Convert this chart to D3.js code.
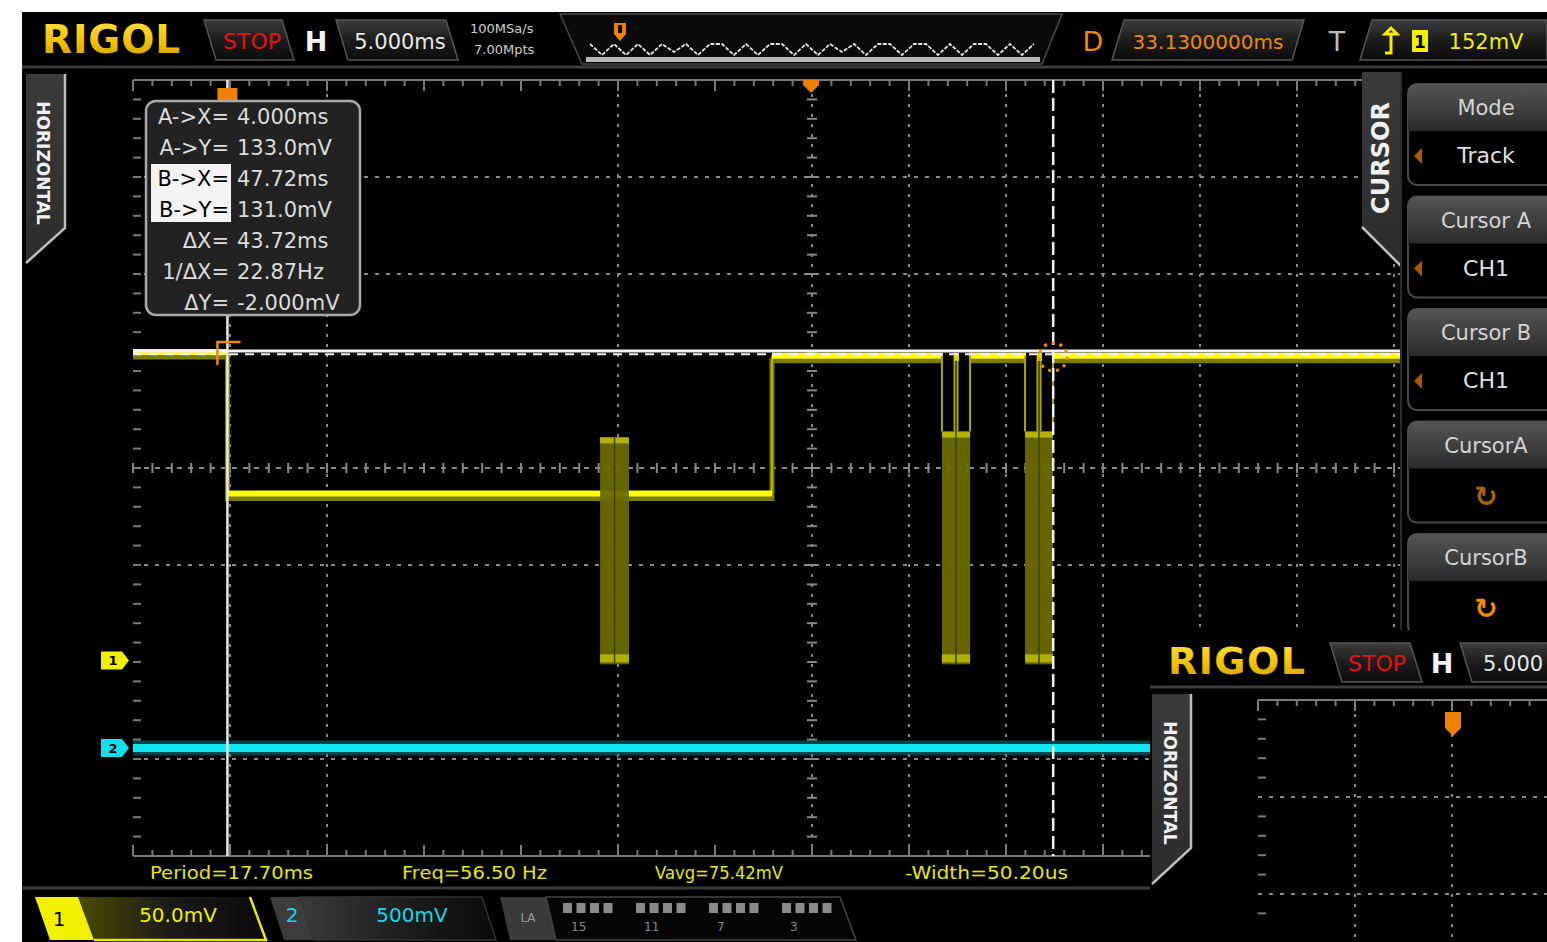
<!DOCTYPE html>
<html>
<head>
<meta charset="utf-8">
<script src="https://cdn.jsdelivr.net/npm/d3@7"></script>
<style>
  html, body { margin: 0; padding: 0; background: #fff; overflow: hidden; }
  text { font-family: "DejaVu Sans", sans-serif; }
</style>
</head>
<body>
<svg id="scope" width="1547" height="942"></svg>
<script>
// ---------------- data ----------------
const timeWindowMs = [-1.0, 70.9];          // time spanned by the 14 horizontal divisions
const ch1ScaleMv = 50;                       // CH1 vertical scale, mV/div
const ch1CenterMv = 73.2;                    // CH1 value on the centre graticule line
const ch2ScaleMv = 500;                      // CH2 vertical scale, mV/div
const ch2CenterMv = 1443;                    // CH2 value on the centre graticule line

// CH1 levels as step changes (time ms, level mV)
const ch1StepTimes = [-1.0, 4.0, 32.83, 70.9];
const ch1StepLevels = [133, 60, 131, 131];

// CH1 data bursts: start/end ms, swing low/high mV, level the burst sits on
const burstStart = [23.73, 41.83, 46.23];
const burstEnd   = [25.26, 43.32, 47.71];
const burstLow   = [-28, -28, -28];
const burstHigh  = [89, 92, 92];
const burstBase  = [60, 131, 131];

// CH2 stays at 0 V over the whole record
const ch2Times = [-1.0, 70.9];
const ch2Levels = [0, 0];

// cursors (track mode, both on CH1)
const cursorAx = 4.000, cursorAy = 133.0;
const cursorBx = 47.72, cursorBy = 131.0;

const triggerPosMs = 34.9;
const ch1OffsetMv = -26;
const ch2OffsetMv = 0;

const measureLabels = ["Period=17.70ms", "Freq=56.50 Hz", "Vavg=75.42mV", "-Width=50.20us"];
const menuTitles = ["Mode", "Cursor A", "Cursor B", "CursorA", "CursorB"];
const menuValues = ["Track", "CH1", "CH1", "\u21BB", "\u21BB"];
const laGroupLabels = ["15", "11", "7", "3"];
const overviewPattern = "^v^v^v^_^v^^v^v^^v^v^_^v^^v^^v^v^^v^v^";

// graticule lines that show on this screen (division index from centre)
const gridCols = [-6, -5, -2, 0, 1, 2, 3, 4, 5, 6];
const gridRows = [3, 2, 0, -1, -3];

// ---------------- drawing ----------------
const W = 1547, H = 942;
const svg = d3.select("#scope");
const defs = svg.append("defs");

function vGrad(id, stops) {
  const g = defs.append("linearGradient").attr("id", id)
    .attr("x1", 0).attr("y1", 0).attr("x2", 0).attr("y2", 1);
  stops.forEach(([o, c]) => g.append("stop").attr("offset", o).attr("stop-color", c));
}
function hGrad(id, stops) {
  const g = defs.append("linearGradient").attr("id", id)
    .attr("x1", 0).attr("y1", 0).attr("x2", 1).attr("y2", 0);
  stops.forEach(([o, c]) => g.append("stop").attr("offset", o).attr("stop-color", c));
}
vGrad("boxGrad", [[0, "#3c3c3c"], [0.5, "#1c1c1c"], [1, "#0c0c0c"]]);
vGrad("btnGrad", [[0, "#555"], [1, "#2a2a2a"]]);
vGrad("tabGrad", [[0, "#3a3a3a"], [1, "#2c2c2c"]]);
vGrad("logoGrad", [[0, "#ffe24a"], [0.55, "#f2c200"], [1, "#c99a00"]]);
hGrad("ch1Grad", [[0, "#4a4a00"], [0.5, "#1a1a1a"], [1, "#0a0a0a"]]);
hGrad("chGrad", [[0, "#3a3a3a"], [0.6, "#1a1a1a"], [1, "#0a0a0a"]]);

// page and screen
svg.append("rect").attr("width", W).attr("height", H).attr("fill", "#fff");
svg.append("rect").attr("x", 22).attr("y", 12).attr("width", W - 22).attr("height", H - 12).attr("fill", "#000");

const poly = (g, pts, fill, stroke, sw) =>
  g.append("polygon").attr("points", pts.map(p => p.join(",")).join(" "))
    .attr("fill", fill).attr("stroke", stroke || "none").attr("stroke-width", sw || 1.5);

// ---------- graticule ----------
const gx = d3.scaleLinear().domain([-7, 7]).range([133, 1491]);
const gy = d3.scaleLinear().domain([-4, 4]).range([856, 80]);
const grid = svg.append("g");
const gridCol = "#888";

gridCols.forEach(d => {
  grid.append("line").attr("x1", gx(d)).attr("x2", gx(d)).attr("y1", gy(4) + 4).attr("y2", gy(-4))
    .attr("stroke", gridCol).attr("stroke-width", 2).attr("stroke-dasharray", "3,7");
});
gridRows.forEach(d => {
  grid.append("line").attr("x1", gx(-7)).attr("x2", gx(7)).attr("y1", gy(d)).attr("y2", gy(d))
    .attr("stroke", gridCol).attr("stroke-width", 2).attr("stroke-dasharray", d === 0 ? "5,6" : "4,7");
});
const minorX = d3.range(-35, 36).map(i => i / 5);
const minorY = d3.range(-20, 21).map(i => i / 5);
// centre axes with subdivision ticks
minorX.forEach(m => {
  grid.append("line").attr("x1", gx(m)).attr("x2", gx(m)).attr("y1", gy(0) - 5).attr("y2", gy(0) + 5)
    .attr("stroke", gridCol).attr("stroke-width", 2);
});
minorY.forEach(m => {
  grid.append("line").attr("x1", gx(0) - 5).attr("x2", gx(0) + 5).attr("y1", gy(m)).attr("y2", gy(m))
    .attr("stroke", gridCol).attr("stroke-width", 2);
});
// frame: top/bottom rules with ticks, left ticks
[[gy(4), 1], [gy(-4), -1]].forEach(([yy, dir]) => {
  grid.append("line").attr("x1", gx(-7)).attr("x2", gx(7)).attr("y1", yy).attr("y2", yy)
    .attr("stroke", "#7a7a7a").attr("stroke-width", 2);
  minorX.forEach(m => {
    const major = Math.abs(m - Math.round(m)) < 1e-6;
    grid.append("line").attr("x1", gx(m)).attr("x2", gx(m)).attr("y1", yy).attr("y2", yy + dir * (major ? 11 : 6))
      .attr("stroke", "#7a7a7a").attr("stroke-width", 2);
  });
});
minorY.forEach(m => {
  grid.append("line").attr("x1", gx(-7)).attr("x2", gx(-7) + 8).attr("y1", gy(m)).attr("y2", gy(m))
    .attr("stroke", "#7a7a7a").attr("stroke-width", 2);
});

// ---------- traces ----------
const x = d3.scaleLinear().domain(timeWindowMs).range([gx(-7), gx(7)]);
const y1 = d3.scaleLinear().domain([ch1CenterMv - 4 * ch1ScaleMv, ch1CenterMv + 4 * ch1ScaleMv]).range([gy(-4), gy(4)]);
const y2 = d3.scaleLinear().domain([ch2CenterMv - 4 * ch2ScaleMv, ch2CenterMv + 4 * ch2ScaleMv]).range([gy(-4), gy(4)]);

const ch1Pts = ch1StepTimes.map((t, i) => [t, ch1StepLevels[i]]);
const stepLine = d3.line().x(d => x(d[0])).y(d => y1(d[1])).curve(d3.curveStepAfter);
const traces = svg.append("g");

// CH2 (cyan)
const ch2Pts = ch2Times.map((t, i) => [t, ch2Levels[i]]);
const ch2Line = d3.line().x(d => x(d[0])).y(d => y2(d[1]));
traces.append("path").attr("d", ch2Line(ch2Pts)).attr("fill", "none")
  .attr("stroke", "#0aa8b4").attr("stroke-width", 15).attr("opacity", 0.4);
traces.append("path").attr("d", ch2Line(ch2Pts)).attr("fill", "none")
  .attr("stroke", "#12e6f2").attr("stroke-width", 8);

// CH1 afterglow band then bright trace
traces.append("path").attr("d", stepLine(ch1Pts)).attr("fill", "none")
  .attr("stroke", "#7c7c00").attr("stroke-width", 5).attr("transform", "translate(0,5)");
traces.append("path").attr("d", stepLine(ch1Pts)).attr("fill", "none")
  .attr("stroke", "#e0e000").attr("stroke-width", 1.5).attr("opacity", 0.7);
// only the flat parts carry the heavy bright stroke
ch1Pts.slice(0, -1).forEach((p, i) => {
  const tEnd = ch1Pts[i + 1][0];
  traces.append("line").attr("x1", x(p[0])).attr("x2", x(tEnd)).attr("y1", y1(p[1])).attr("y2", y1(p[1]))
    .attr("stroke", "#ffff10").attr("stroke-width", 6);
});

// bursts
burstStart.forEach((t0, i) => {
  const t1 = burstEnd[i], mid = (t0 + t1) / 2;
  const xa = x(t0), xb = x(t1), xm = x(mid);
  const yt = y1(burstHigh[i]), yb = y1(burstLow[i]), yBase = y1(burstBase[i]);
  if (yBase < yt) {
    // burst hangs below a high level: black gap with edge lines
    traces.append("rect").attr("x", xa + 1).attr("y", yBase - 4).attr("width", xb - xa - 2).attr("height", yt - yBase + 4)
      .attr("fill", "#000");
    [xa, xm - 1.5, xm + 1.5, xb].forEach(xx => {
      traces.append("line").attr("x1", xx).attr("x2", xx).attr("y1", yBase).attr("y2", yt)
        .attr("stroke", "#a8a800").attr("stroke-width", 2);
    });
    traces.append("rect").attr("x", xm - 2).attr("y", yBase - 3).attr("width", 5).attr("height", 8).attr("fill", "#d8d800");
  }
  traces.append("rect").attr("x", xa).attr("y", yt).attr("width", xb - xa).attr("height", yb - yt)
    .attr("fill", "#6a6a00").attr("opacity", 0.95);
  traces.append("rect").attr("x", xa).attr("y", yt).attr("width", xb - xa).attr("height", 6).attr("fill", "#b4b400");
  traces.append("rect").attr("x", xa).attr("y", yb - 10).attr("width", xb - xa).attr("height", 8).attr("fill", "#b0b000");
  traces.append("line").attr("x1", xm).attr("x2", xm).attr("y1", yt).attr("y2", yb)
    .attr("stroke", "#3e3e00").attr("stroke-width", 1.5);
});

// ---------- cursors ----------
const cur = svg.append("g");
cur.append("line").attr("x1", gx(-7)).attr("x2", gx(7)).attr("y1", y1(cursorAy) - 1).attr("y2", y1(cursorAy) - 1)
  .attr("stroke", "#f2f2f2").attr("stroke-width", 3);
cur.append("line").attr("x1", gx(-7)).attr("x2", gx(7)).attr("y1", y1(cursorBy) - 1.5).attr("y2", y1(cursorBy) - 1.5)
  .attr("stroke", "#f2f2f2").attr("stroke-width", 2).attr("stroke-dasharray", "9,7");
cur.append("line").attr("x1", x(cursorAx)).attr("x2", x(cursorAx)).attr("y1", gy(4)).attr("y2", gy(-4))
  .attr("stroke", "#eaeaea").attr("stroke-width", 2.5);
cur.append("line").attr("x1", x(cursorBx)).attr("x2", x(cursorBx)).attr("y1", gy(4)).attr("y2", gy(-4))
  .attr("stroke", "#f2f2f2").attr("stroke-width", 2.5).attr("stroke-dasharray", "13,5");
// cursor A corner mark, cursor B dotted ring
const ax = x(cursorAx), ay = y1(cursorAy);
cur.append("path").attr("d", `M${ax - 10},${ay + 13} V${ay - 10} H${ax + 13}`)
  .attr("fill", "none").attr("stroke", "#f08a00").attr("stroke-width", 2.5);
cur.append("circle").attr("cx", x(cursorBx)).attr("cy", y1(cursorBy) + 1).attr("r", 14)
  .attr("fill", "none").attr("stroke", "#f09000").attr("stroke-width", 3).attr("stroke-dasharray", "3,5");

// top markers: cursor A position and trigger position
cur.append("rect").attr("x", x(cursorAx) - 10).attr("y", 88).attr("width", 20).attr("height", 12).attr("fill", "#f08000");
cur.append("path").attr("d", `M${x(triggerPosMs) - 8},80 H${x(triggerPosMs) + 8} V85 L${x(triggerPosMs)},93 L${x(triggerPosMs) - 8},85 Z`)
  .attr("fill", "#f08000");

// channel markers
function chTag(yy, fill, label) {
  const g = svg.append("g");
  g.append("path").attr("d", `M101,${yy - 9} H122 L129,${yy} L122,${yy + 9} H101 Z`).attr("fill", fill);
  g.append("text").attr("x", 113).attr("y", yy + 5).attr("text-anchor", "middle").attr("font-size", 13)
    .attr("font-weight", "bold").attr("fill", "#000").text(label);
}
chTag(y1(ch1OffsetMv), "#f0f000", "1");
chTag(y2(ch2OffsetMv), "#10e0ee", "2");

// ---------- cursor readout box ----------
const box = svg.append("g");
box.append("rect").attr("x", 146).attr("y", 101).attr("width", 214).attr("height", 214).attr("rx", 10)
  .attr("fill", "#222").attr("stroke", "#a8a8a8").attr("stroke-width", 2.5);
box.append("rect").attr("x", 151).attr("y", 164).attr("width", 80).attr("height", 58).attr("fill", "#f4f4f4");
const dX = cursorBx - cursorAx, dY = cursorBy - cursorAy;
const readout = [
  ["A->X=", cursorAx.toFixed(3) + "ms"],
  ["A->Y=", cursorAy.toFixed(1) + "mV"],
  ["B->X=", cursorBx.toFixed(2) + "ms"],
  ["B->Y=", cursorBy.toFixed(1) + "mV"],
  ["\u0394X=", dX.toFixed(2) + "ms"],
  ["1/\u0394X=", (1000 / dX).toFixed(2) + "Hz"],
  ["\u0394Y=", dY.toFixed(3) + "mV"]
];
readout.forEach((r, i) => {
  const yy = 124 + i * 31;
  const hl = i === 2 || i === 3;
  box.append("text").attr("x", 229).attr("y", yy).attr("text-anchor", "end")
    .attr("font-family", "DejaVu Sans Mono").attr("font-size", 21).attr("fill", hl ? "#000" : "#dcdcdc").text(r[0]);
  box.append("text").attr("x", 237).attr("y", yy)
    .attr("font-family", "DejaVu Sans Mono").attr("font-size", 21).attr("fill", "#dcdcdc").text(r[1]);
});

// ---------- side tabs ----------
function sideTab(pts, rim, tx, ty, rot, label, size) {
  const g = svg.append("g");
  poly(g, pts, "url(#tabGrad)");
  g.append("polyline").attr("points", rim.map(p => p.join(",")).join(" ")).attr("fill", "none")
    .attr("stroke", "#bdbdbd").attr("stroke-width", 2.5);
  g.append("text").attr("transform", `translate(${tx},${ty}) rotate(${rot})`).attr("text-anchor", "middle")
    .attr("dominant-baseline", "central").attr("font-size", size).attr("font-weight", "bold")
    .attr("fill", "#f0f0f0").text(label);
}
sideTab([[26, 74], [65, 74], [65, 228], [26, 263]], [[65, 74], [65, 228], [26, 263]], 43, 163, 90, "HORIZONTAL", 17);

// ---------- right menu ----------
svg.append("rect").attr("x", 1401).attr("y", 68).attr("width", W - 1401).attr("height", 570).attr("fill", "#000");
sideTab([[1362, 72], [1401, 72], [1401, 266], [1362, 227]], [[1362, 227], [1401, 266]], 1381, 158, -90, "CURSOR", 24);
svg.append("line").attr("x1", 1401).attr("x2", 1401).attr("y1", 72).attr("y2", 630).attr("stroke", "#2a2a2a").attr("stroke-width", 2);

const menu = svg.append("g");
menuTitles.forEach((t, i) => {
  const by = 84 + i * 112.5;
  const g = menu.append("g");
  g.append("rect").attr("x", 1408).attr("y", by).attr("width", 160).attr("height", 101).attr("rx", 9)
    .attr("fill", "#000").attr("stroke", "#4a4a4a").attr("stroke-width", 2);
  g.append("path").attr("d", `M1408,${by + 47} V${by + 9} Q1408,${by} 1417,${by} H1568 V${by + 47} Z`)
    .attr("fill", "url(#btnGrad)");
  g.append("text").attr("x", 1486).attr("y", by + 31).attr("text-anchor", "middle").attr("font-size", 21)
    .attr("fill", "#d4d4d4").text(t);
  const isIcon = i >= 3;
  g.append("text").attr("x", 1486).attr("y", by + (isIcon ? 84 : 79)).attr("text-anchor", "middle")
    .attr("font-size", isIcon ? 28 : 22).attr("font-weight", isIcon ? "bold" : "normal")
    .attr("fill", isIcon ? (i === 3 ? "#a86400" : "#f08c00") : "#e0e0e0").text(menuValues[i]);
  if (!isIcon) {
    g.append("path").attr("d", `M1414,${by + 72} L1422,${by + 64} V${by + 80} Z`).attr("fill", "#a85a00");
  }
});

// ---------- top status bar ----------
const bar = svg.append("g");
bar.append("line").attr("x1", 22).attr("x2", W).attr("y1", 67).attr("y2", 67).attr("stroke", "#3c3c3c").attr("stroke-width", 3);
bar.append("text").attr("x", 42).attr("y", 53).attr("font-family", "Liberation Serif").attr("font-weight", "bold")
  .attr("font-size", 39).attr("textLength", 138).attr("fill", "url(#logoGrad)").text("RIGOL");
poly(bar, [[204, 20], [282, 20], [294, 60], [216, 60]], "url(#boxGrad)", "#555");
bar.append("text").attr("x", 252).attr("y", 49).attr("text-anchor", "middle").attr("font-size", 22).attr("fill", "#e81010").text("STOP");
bar.append("text").attr("x", 316).attr("y", 51).attr("text-anchor", "middle").attr("font-size", 27).attr("font-weight", "bold")
  .attr("fill", "#f4f4f4").text("H");
poly(bar, [[336, 20], [446, 20], [458, 60], [348, 60]], "url(#boxGrad)", "#555");
bar.append("text").attr("x", 400).attr("y", 49).attr("text-anchor", "middle").attr("font-size", 21).attr("fill", "#e8e8e8").text("5.000ms");
bar.append("text").attr("x", 470).attr("y", 33).attr("font-size", 13).attr("fill", "#d0d0d0").text("100MSa/s");
bar.append("text").attr("x", 474).attr("y", 54).attr("font-size", 13).attr("fill", "#d0d0d0").text("7.00Mpts");

// memory overview
poly(bar, [[560, 14], [1062, 14], [1042, 64], [582, 64]], "#0a0a0a", "#4a4a4a");
bar.append("rect").attr("x", 586).attr("y", 57).attr("width", 454).attr("height", 5).attr("fill", "#b8b8b8");
const ovx = d3.scaleLinear().domain([0, overviewPattern.length - 1]).range([590, 1034]);
const ovLevel = c => (c === "^" ? 44 : (c === "v" ? 55 : 52));
const ovLine = d3.line().x((c, i) => ovx(i)).y(c => ovLevel(c));
bar.append("path").attr("d", ovLine(overviewPattern.split(""))).attr("fill", "none")
  .attr("stroke", "#e4e4e4").attr("stroke-width", 1.8).attr("stroke-dasharray", "4,1.5");
bar.append("path").attr("d", "M614,23 H626 V34 L620,41 L614,34 Z").attr("fill", "#f08000");
bar.append("rect").attr("x", 618).attr("y", 25).attr("width", 4).attr("height", 8).attr("fill", "#000");

bar.append("text").attr("x", 1093).attr("y", 51).attr("text-anchor", "middle").attr("font-size", 27).attr("fill", "#f08a00").text("D");
poly(bar, [[1124, 20], [1304, 20], [1292, 60], [1112, 60]], "url(#boxGrad)", "#555");
bar.append("text").attr("x", 1208).attr("y", 49).attr("text-anchor", "middle").attr("font-size", 20).attr("fill", "#f08a00")
  .text("33.1300000ms");
bar.append("text").attr("x", 1337).attr("y", 51).attr("text-anchor", "middle").attr("font-size", 27).attr("fill", "#bdbdbd").text("T");
poly(bar, [[1372, 20], [1547, 20], [1547, 60], [1360, 60]], "url(#boxGrad)", "#555");
bar.append("path").attr("d", "M1385,53 H1391 V34 H1397 L1391,28 L1385,34 H1391").attr("fill", "none").attr("stroke", "#f0f000").attr("stroke-width", 3);
bar.append("rect").attr("x", 1412).attr("y", 30).attr("width", 16).attr("height", 22).attr("fill", "#f0f000");
bar.append("text").attr("x", 1420).attr("y", 48).attr("text-anchor", "middle").attr("font-size", 17).attr("font-weight", "bold").attr("fill", "#000").text("1");
bar.append("text").attr("x", 1486).attr("y", 49).attr("text-anchor", "middle").attr("font-size", 21).attr("fill", "#f0f000").text("152mV");

// ---------- measurements ----------
const meas = svg.append("g");
const measX = [150, 402, 655, 905];
const measW = [163, 145, 128, 163];
measureLabels.forEach((m, i) => {
  meas.append("text").attr("x", measX[i]).attr("y", 879).attr("font-family", "DejaVu Sans Mono").attr("font-size", 17)
    .attr("textLength", measW[i]).attr("lengthAdjust", "spacingAndGlyphs").attr("fill", "#e8e800").text(m);
});
svg.append("line").attr("x1", 22).attr("x2", 1150).attr("y1", 888).attr("y2", 888).attr("stroke", "#3a3a3a").attr("stroke-width", 3);

// ---------- bottom channel bar ----------
const bot = svg.append("g");
poly(bot, [[78, 897], [250, 897], [266, 940], [94, 940]], "url(#ch1Grad)");
bot.append("polyline").attr("points", "250,897 266,940 94,940").attr("fill", "none").attr("stroke", "#e8e800").attr("stroke-width", 2.5);
poly(bot, [[35, 897], [78, 897], [94, 940], [50, 940]], "#f0f000");
bot.append("text").attr("x", 59).attr("y", 926).attr("text-anchor", "middle").attr("font-size", 20).attr("fill", "#000").text("1");
bot.append("text").attr("x", 178).attr("y", 922).attr("text-anchor", "middle").attr("font-size", 20).attr("fill", "#f0f000").text("50.0mV");

poly(bot, [[270, 897], [300, 897], [314, 940], [284, 940]], "#3c3c3c");
poly(bot, [[300, 897], [482, 897], [496, 940], [314, 940]], "url(#chGrad)", "#333");
bot.append("text").attr("x", 292).attr("y", 922).attr("text-anchor", "middle").attr("font-size", 20).attr("fill", "#18d8e8").text("2");
bot.append("text").attr("x", 412).attr("y", 922).attr("text-anchor", "middle").attr("font-size", 20).attr("fill", "#18d8e8").text("500mV");

poly(bot, [[500, 897], [546, 897], [556, 940], [510, 940]], "#3a3a3a");
poly(bot, [[546, 897], [840, 897], [856, 940], [556, 940]], "#050505", "#444");
bot.append("text").attr("x", 528).attr("y", 922).attr("text-anchor", "middle").attr("font-size", 12).attr("fill", "#999").text("LA");
laGroupLabels.forEach((lab, gi) => {
  const gx0 = 563 + gi * 73;
  d3.range(4).forEach(k => {
    bot.append("rect").attr("x", gx0 + k * 13.5).attr("y", 903).attr("width", 9).attr("height", 10).attr("fill", "#8a8a8a");
  });
  bot.append("text").attr("x", gx0 + 8).attr("y", 931).attr("font-size", 12).attr("fill", "#888").text(lab);
});

// ---------- second capture, lower right ----------
const ins = svg.append("g");
ins.append("rect").attr("x", 1150).attr("y", 630).attr("width", W - 1150).attr("height", H - 630).attr("fill", "#000");
ins.append("text").attr("x", 1168).attr("y", 674).attr("font-family", "Liberation Serif").attr("font-weight", "bold")
  .attr("font-size", 38).attr("textLength", 137).attr("fill", "url(#logoGrad)").text("RIGOL");
poly(ins, [[1330, 643], [1410, 643], [1422, 682], [1342, 682]], "url(#boxGrad)", "#555");
ins.append("text").attr("x", 1377).attr("y", 671).attr("text-anchor", "middle").attr("font-size", 22).attr("fill", "#e81010").text("STOP");
ins.append("text").attr("x", 1442).attr("y", 673).attr("text-anchor", "middle").attr("font-size", 27).attr("font-weight", "bold").attr("fill", "#f4f4f4").text("H");
poly(ins, [[1460, 643], [1560, 643], [1560, 682], [1472, 682]], "url(#boxGrad)", "#555");
ins.append("text").attr("x", 1483).attr("y", 671).attr("font-size", 21).attr("fill", "#e8e8e8").text("5.000");
ins.append("line").attr("x1", 1150).attr("x2", W).attr("y1", 687).attr("y2", 687).attr("stroke", "#3c3c3c").attr("stroke-width", 3);

// inset graticule (same 97 px divisions)
const ix = d3.scaleLinear().domain([0, 1]).range([1258, 1355]);
const iy = d3.scaleLinear().domain([0, 1]).range([700, 797]);
ins.append("line").attr("x1", ix(0)).attr("x2", W).attr("y1", iy(0)).attr("y2", iy(0)).attr("stroke", "#7a7a7a").attr("stroke-width", 2);
d3.range(0, 15).map(i => i / 5).filter(m => ix(m) <= W).forEach(m => {
  const major = Math.abs(m - Math.round(m)) < 1e-6;
  ins.append("line").attr("x1", ix(m)).attr("x2", ix(m)).attr("y1", iy(0)).attr("y2", iy(0) + (major ? 11 : 6))
    .attr("stroke", "#7a7a7a").attr("stroke-width", 2);
});
[1, 2].forEach(d => {
  ins.append("line").attr("x1", ix(d)).attr("x2", ix(d)).attr("y1", iy(0) + 4).attr("y2", H)
    .attr("stroke", gridCol).attr("stroke-width", 2).attr("stroke-dasharray", "3,7");
  ins.append("line").attr("x1", ix(0)).attr("x2", W).attr("y1", iy(d)).attr("y2", iy(d))
    .attr("stroke", gridCol).attr("stroke-width", 2).attr("stroke-dasharray", "4,7");
});
d3.range(1, 12).map(i => i / 5).filter(m => Math.abs(m - Math.round(m)) > 1e-6).forEach(m => {
  ins.append("line").attr("x1", ix(0)).attr("x2", ix(0) + 8).attr("y1", iy(m)).attr("y2", iy(m))
    .attr("stroke", "#7a7a7a").attr("stroke-width", 2);
});
ins.append("path").attr("d", `M${ix(2) - 7},712 H${ix(2) + 9} V728 L${ix(2) + 1},736 L${ix(2) - 7},728 Z`).attr("fill", "#f08000");

sideTab([[1152, 694], [1191, 694], [1191, 848], [1152, 884]], [[1191, 694], [1191, 848], [1152, 884]], 1170, 783, 90, "HORIZONTAL", 17);
</script>
</body>
</html>
